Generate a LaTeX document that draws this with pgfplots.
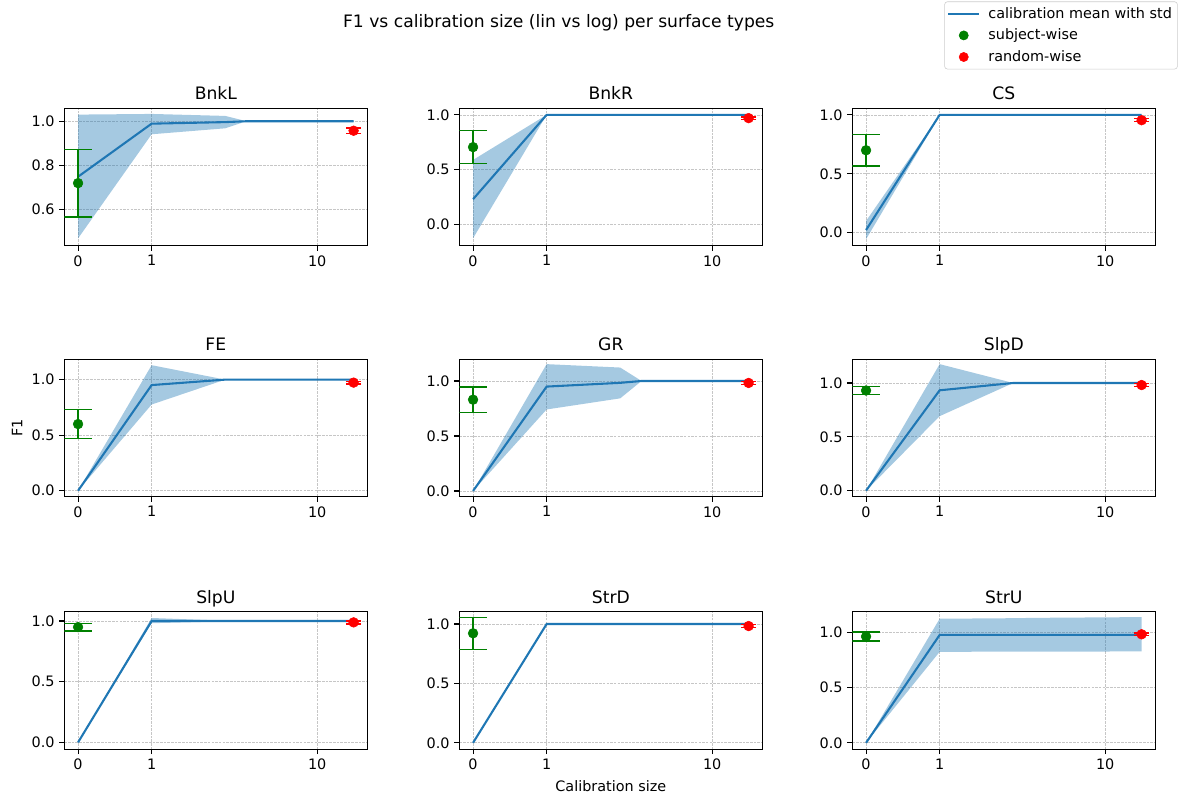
\documentclass[border=0pt]{standalone}
\usepackage{fontspec}
\setmainfont{DejaVu Sans}
\usepackage{pgfplots}
\pgfplotsset{compat=1.18}
\definecolor{mplblue}{HTML}{1F77B4}
\definecolor{mplgreen}{RGB}{0,128,0}
\definecolor{mplred}{RGB}{255,0,0}
\newcommand\tkfont{\fontsize{10.4}{12.5}\selectfont}
\newcommand\ttfont{\fontsize{12.4}{14.9}\selectfont}
\pgfplotsset{
  panel/.style={
    scale only axis, width=218.2bp, height=99bp,
    xmin=-0.187, xmax=3.932,
    xtick={0,1,3.25}, xticklabels={0,1,10},
    grid=major,
    grid style={gray!45, line width=0.5bp, dash pattern=on 1.85bp off 0.8bp},
    axis line style={black, line width=0.8bp},
    tick align=outside, tick pos=left,
    major tick length=3.5bp,
    every tick/.style={black, line width=0.8bp},
    tick label style={font=\tkfont},
    /pgf/number format/assume math mode=true,
    yticklabel style={/pgf/number format/.cd, fixed, fixed zerofill, precision=1},
    title style={font=\ttfont, at={(0.5,1)}, anchor=base, yshift=0.2bp},
  },
  meanline/.style={mplblue, line width=1.5bp, no marks, forget plot},
  band/.style={fill=mplblue, fill opacity=0.4, draw=none, forget plot},
  subj/.style={mplgreen, mark=*, mark size=3.5bp, only marks, forget plot,
    error bars/.cd, y dir=both, y explicit,
    error bar style={line width=1.5bp, mplgreen},
    error mark options={rotate=90, mark size=10bp, line width=1bp, mplgreen}},
  rand/.style={mplred, mark=*, mark size=3.5bp, only marks, forget plot,
    error bars/.cd, y dir=both, y explicit,
    error bar style={line width=1.5bp, mplred},
    error mark options={rotate=90, mark size=5.4bp, line width=1bp, mplred}},
  leglinecode/.style={legend image code/.code={\draw[##1] (0bp,0bp) -- (22bp,0bp); \path (26bp,0bp);}},
  legmarkcode/.style={legend image code/.code={\draw[mark repeat=2,mark phase=2,##1] plot coordinates {(0bp,0bp)(11bp,0bp)(22bp,0bp)}; \path (26bp,0bp);}},
}
\begin{document}
\begin{tikzpicture}
\path[use as bounding box] (0bp,0bp) rectangle (852.48bp,575.28bp);
\node[font=\ttfont, anchor=base] at (402.3bp,555.8bp) {F1 vs calibration size (lin vs log) per surface types};

% ---------- Row 1 ----------
\begin{axis}[panel, at={(46.30bp,398.38bp)}, anchor=south west, title={BnkL},
  ymin=0.437, ymax=1.059, ytick={0.6,0.8,1.0}]
\addplot[band] coordinates {(0,1.03) (1,1.033) (2,1.024) (2.29,1.0) (3.745,1.0) (3.745,1.0) (2.29,1.0) (2,0.968) (1,0.941) (0,0.47)} -- cycle;
\addplot[meanline] coordinates {(0,0.749) (1,0.989) (2,0.996) (2.29,1.0) (3.745,1.0)};
\addplot[subj] coordinates {(0,0.72) +- (0,0.153)};
\addplot[rand] coordinates {(3.745,0.957) +- (0,0.012)};
\end{axis}

\begin{axis}[panel, at={(330.70bp,398.38bp)}, anchor=south west, title={BnkR},
  ymin=-0.196, ymax=1.061, ytick={0,0.5,1.0}]
\addplot[band] coordinates {(0,0.588) (1,1.0) (2,1.0) (2.29,1.0) (3.745,1.0) (3.745,1.0) (2.29,1.0) (2,1.0) (1,1.0) (0,-0.128)} -- cycle;
\addplot[meanline] coordinates {(0,0.229) (1,1.0) (2,1.0) (2.29,1.0) (3.745,1.0)};
\addplot[subj] coordinates {(0,0.705) +- (0,0.151)};
\addplot[rand] coordinates {(3.745,0.97) +- (0,0.012)};
\end{axis}

\begin{axis}[panel, at={(613.66bp,398.38bp)}, anchor=south west, title={CS},
  ymin=-0.110, ymax=1.057, ytick={0,0.5,1.0},
  legend style={at={(1.0737,1.776)}, anchor=north east, draw=black!20, rounded corners=2bp,
    fill=white, font=\tkfont, row sep=2.2bp, inner xsep=2bp, inner ysep=2bp},
  legend cell align=left]
\addplot[band] coordinates {(0,0.10) (1,1.0) (2,1.0) (2.29,1.0) (3.745,1.0) (3.745,0.997) (2.29,0.997) (2,0.997) (1,0.995) (0,-0.055)} -- cycle;
\addplot[meanline] coordinates {(0,0.023) (1,1.0) (2,1.0) (2.29,1.0) (3.745,1.0)};
\addplot[subj] coordinates {(0,0.70) +- (0,0.133)};
\addplot[rand] coordinates {(3.745,0.955) +- (0,0.012)};
\addlegendimage{mplblue, line width=1.5bp, leglinecode}
\addlegendentry{calibration mean with std}
\addlegendimage{only marks, mark=*, mplgreen, mark size=3.3bp, legmarkcode}
\addlegendentry{subject-wise}
\addlegendimage{only marks, mark=*, mplred, mark size=3.3bp, legmarkcode}
\addlegendentry{random-wise}
\end{axis}

% ---------- Row 2 ----------
\begin{axis}[panel, at={(46.30bp,217.66bp)}, anchor=south west, title={FE},
  ymin=-0.054, ymax=1.184, ytick={0,0.5,1.0},
  ylabel={F1}, ylabel style={font=\tkfont, at={(axis description cs:-0.156,0.5)}, anchor=center}]
\addplot[band] coordinates {(0,0) (1,1.13) (2,1.0) (2.29,1.0) (3.745,1.0) (3.745,1.0) (2.29,1.0) (2,1.0) (1,0.776) (0,0)} -- cycle;
\addplot[meanline] coordinates {(0,0) (1,0.951) (2,1.0) (2.29,1.0) (3.745,1.0)};
\addplot[subj] coordinates {(0,0.60) +- (0,0.13)};
\addplot[rand] coordinates {(3.745,0.973) +- (0,0.012)};
\end{axis}

\begin{axis}[panel, at={(330.70bp,217.66bp)}, anchor=south west, title={GR},
  ymin=-0.052, ymax=1.198, ytick={0,0.5,1.0}]
\addplot[band] coordinates {(0,0) (1,1.153) (2,1.122) (2.29,1.0) (3.745,1.0) (3.745,1.0) (2.29,1.0) (2,0.842) (1,0.741) (0,0)} -- cycle;
\addplot[meanline] coordinates {(0,0) (1,0.949) (2,0.983) (2.29,1.0) (3.745,1.0)};
\addplot[subj] coordinates {(0,0.83) +- (0,0.115)};
\addplot[rand] coordinates {(3.745,0.982) +- (0,0.012)};
\end{axis}

\begin{axis}[panel, at={(613.66bp,217.66bp)}, anchor=south west, title={SlpD},
  ymin=-0.056, ymax=1.221, ytick={0,0.5,1.0}]
\addplot[band] coordinates {(0,0) (1,1.175) (2,1.0) (2.29,1.0) (3.745,1.0) (3.745,1.0) (2.29,1.0) (2,1.0) (1,0.692) (0,0)} -- cycle;
\addplot[meanline] coordinates {(0,0) (1,0.932) (2,1.0) (2.29,1.0) (3.745,1.0)};
\addplot[subj] coordinates {(0,0.93) +- (0,0.036)};
\addplot[rand] coordinates {(3.745,0.981) +- (0,0.012)};
\end{axis}

% ---------- Row 3 ----------
\begin{axis}[panel, at={(46.30bp,35.78bp)}, anchor=south west, title={SlpU},
  ymin=-0.057, ymax=1.076, ytick={0,0.5,1.0}]
\addplot[band] coordinates {(0,0) (1,1.025) (2,1.003) (2.29,1.0) (3.745,1.0) (3.745,1.0) (2.29,1.0) (2,0.997) (1,0.982) (0,0)} -- cycle;
\addplot[meanline] coordinates {(0,0) (1,1.0) (2,1.0) (2.29,1.0) (3.745,1.0)};
\addplot[subj] coordinates {(0,0.95) +- (0,0.032)};
\addplot[rand] coordinates {(3.745,0.989) +- (0,0.012)};
\end{axis}

\begin{axis}[panel, at={(330.70bp,35.78bp)}, anchor=south west, title={StrD},
  ymin=-0.055, ymax=1.103, ytick={0,0.5,1.0},
  xlabel={Calibration size}, xlabel style={font=\tkfont, at={(axis description cs:0.5,0)}, anchor=center, yshift=-26.4bp}]
\addplot[meanline] coordinates {(0,0) (1,1.0) (2,1.0) (2.29,1.0) (3.745,1.0)};
\addplot[subj] coordinates {(0,0.922) +- (0,0.135)};
\addplot[rand] coordinates {(3.745,0.983) +- (0,0.012)};
\end{axis}

\begin{axis}[panel, at={(613.66bp,35.78bp)}, anchor=south west, title={StrU},
  ymin=-0.059, ymax=1.189, ytick={0,0.5,1.0}]
\addplot[band] coordinates {(0,0) (1,1.126) (2,1.131) (2.29,1.134) (3.745,1.141) (3.745,0.829) (2.29,0.828) (2,0.827) (1,0.826) (0,0)} -- cycle;
\addplot[meanline] coordinates {(0,0) (1,0.979) (2,0.98) (2.29,0.98) (3.745,0.98)};
\addplot[subj] coordinates {(0,0.965) +- (0,0.04)};
\addplot[rand] coordinates {(3.745,0.985) +- (0,0.012)};
\end{axis}
\end{tikzpicture}
\end{document}
